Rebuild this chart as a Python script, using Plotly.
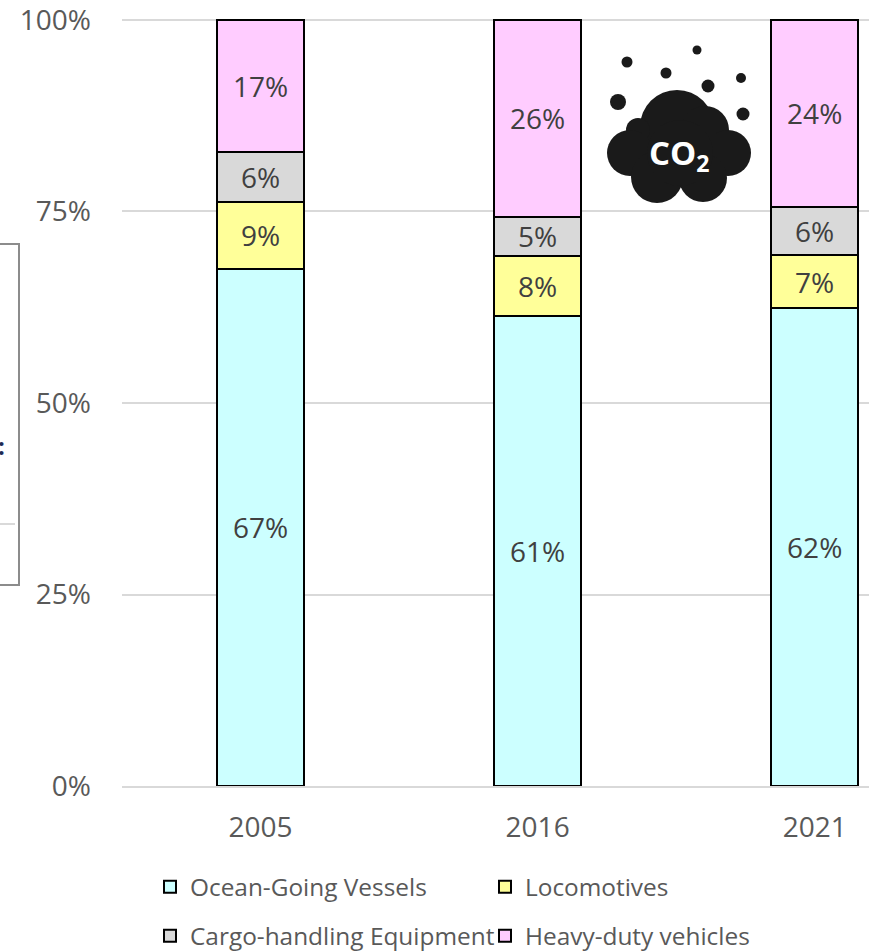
import plotly.graph_objects as go

W, H = 869, 952
FONT = "Open Sans"

years = ["2005", "2016", "2021"]
ocean = [67.5, 61.4, 62.4]
loco = [8.8, 7.8, 6.9]
cargo = [6.5, 5.1, 6.3]
heavy = [17.2, 25.7, 24.4]
ocean_labels = ["67%", "61%", "62%"]
loco_labels = ["9%", "8%", "7%"]
cargo_labels = ["6%", "5%", "6%"]
heavy_labels = ["17%", "26%", "24%"]
y_ticks = [0, 25, 50, 75, 100]
y_tick_labels = ["0%", "25%", "50%", "75%", "100%"]

series = [
    ("Ocean-Going Vessels", ocean, ocean_labels, "#CCFFFF", "legend"),
    ("Locomotives", loco, loco_labels, "#FFFF99", "legend"),
    ("Cargo-handling Equipment", cargo, cargo_labels, "#D9D9D9", "legend2"),
    ("Heavy-duty vehicles", heavy, heavy_labels, "#FFCCFF", "legend2"),
]

# decorative CO2 icon, in page pixels: (cx, cy, r)
cloud_lobes = [(677, 127, 37), (705, 130, 24), (638, 130, 12), (630, 153, 23), (728, 153, 23),
               (657, 177, 26), (703, 178, 24), (680, 153, 33)]
cloud_dots = [(627, 62, 5.5), (666, 73, 5.5), (697, 50, 4.5), (708, 86, 6.5),
              (741, 78, 5), (743, 114, 6.5), (618, 102, 8)]


def px(x):
    return x / W


def py(y):
    return 1 - y / H


fig = go.Figure()
for name, vals, labels, color, leg in series:
    fig.add_trace(go.Bar(
        x=years, y=vals, name=name, text=labels, textposition="inside",
        insidetextanchor="middle", textangle=0, constraintext="none",
        textfont=dict(family=FONT, size=28, color="#404040"),
        marker=dict(color=color, line=dict(color="#000000", width=2)),
        width=0.315, legend=leg,
    ))

shapes = []
for cx, cy, r in cloud_lobes + cloud_dots:
    shapes.append(dict(type="circle", xref="paper", yref="paper",
                       x0=px(cx - r), x1=px(cx + r), y0=py(cy + r), y1=py(cy - r),
                       fillcolor="#1A1A1A", line_width=0, layer="above"))
shapes.append(dict(type="rect", xref="paper", yref="paper", x0=px(-10), x1=px(19), y0=py(585), y1=py(244),
                   line=dict(color="#8C8C8C", width=2), fillcolor="rgba(0,0,0,0)"))
shapes.append(dict(type="line", xref="paper", yref="paper", x0=px(0), x1=px(15), y0=py(524), y1=py(524),
                   line=dict(color="#D9D9D9", width=2)))

annotations = [
    dict(text="<b>CO<sub>2</sub></b>", xref="paper", yref="paper", x=px(679), y=py(155), showarrow=False,
         font=dict(family=FONT, size=33, color="#FFFFFF"), xanchor="center", yanchor="middle"),
    dict(text="<b>:</b>", xref="paper", yref="paper", x=px(0), y=py(445), showarrow=False,
         font=dict(family=FONT, size=24, color="#1F2A55"), xanchor="left", yanchor="middle", xshift=-4),
]

legend_common = dict(
    orientation="h", xref="paper", yref="paper", xanchor="left", yanchor="middle",
    font=dict(family=FONT, size=24.4, color="#595959"), bgcolor="rgba(0,0,0,0)",
    entrywidth=290, entrywidthmode="pixels", traceorder="normal",
    itemclick=False, itemdoubleclick=False, borderwidth=0,
)

fig.update_layout(
    width=W, height=H, barmode="stack", bargap=0.685,
    margin=dict(l=0, r=0, t=0, b=0, autoexpand=False), plot_bgcolor="#FFFFFF", paper_bgcolor="#FFFFFF",
    font=dict(family=FONT),
    xaxis=dict(domain=[px(122), 1], type="category", range=[-0.5, 2.196], showgrid=False,
               showline=True, linecolor="#D9D9D9", linewidth=2, ticks="", ticklabelstandoff=15,
               tickfont=dict(family=FONT, size=28, color="#595959"), automargin=False),
    yaxis=dict(domain=[py(786), py(18)], range=[0, 100.26], tickvals=y_ticks, ticktext=y_tick_labels,
               showgrid=True, gridcolor="#D9D9D9", gridwidth=2, zeroline=False, showline=False,
               ticks="", ticklabelstandoff=30, ticklabeloverflow="allow",
               tickfont=dict(family=FONT, size=28, color="#595959"), automargin=False),
    legend=dict(x=px(150), y=py(887), **legend_common),
    legend2=dict(x=px(150), y=py(936), **legend_common),
    shapes=shapes, annotations=annotations,
)
fig.write_html("out.html", config=dict(displayModeBar=False),
               post_script="document.body.style.margin='0';document.documentElement.style.overflow='hidden';")
